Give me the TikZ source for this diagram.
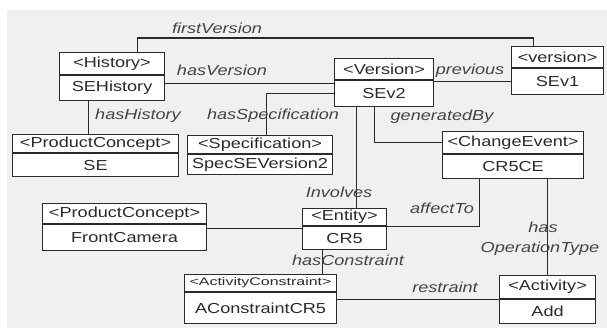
\documentclass[tikz,border=0pt]{standalone}
\usepackage{fontspec}
\setmainfont{Liberation Sans}[FakeStretch=1.25]
\newfontfamily\narrowhead{Liberation Sans}[FakeStretch=1.45]
\usepackage{tikz}
\usetikzlibrary{positioning}
\definecolor{bggray}{HTML}{F0F0F0}
\definecolor{inkgray}{HTML}{2A2A2A}
\definecolor{lblgray}{HTML}{444444}
\tikzstyle{head}=[draw=inkgray, fill=white, text=inkgray, anchor=north west,
    inner sep=0pt, line width=1.1pt]
\tikzstyle{body}=[draw=inkgray, fill=white, text=inkgray,
    inner sep=0pt, line width=1.1pt]
\tikzstyle{rel}=[font=\fontsize{14.5}{16}\selectfont\itshape, text=lblgray, inner sep=0pt]
\begin{document}
\begin{tikzpicture}[x=1pt, y=-1pt, font=\fontsize{14.5}{16}\selectfont]
  \useasboundingbox (0,0) rectangle (607,328);
  \fill[bggray] (7,10) rectangle (607,328);

  \coordinate (fvtop) at (0,38);

  % classes
  \node[head, minimum width=105, minimum height=22] at (59,52) (histh) {<History>};
  \node[body, minimum width=105, minimum height=25, below=0pt of histh] (hist) {SEHistory};

  \node[head, minimum width=99, minimum height=21] at (334,58) (v2h) {<Version>};
  \node[body, minimum width=99, minimum height=26, below=0pt of v2h] (v2) {SEv2};

  \node[head, minimum width=92, minimum height=21] at (511,46) (v1h) {<version>};
  \node[body, minimum width=92, minimum height=26, below=0pt of v1h] (v1) {SEv1};

  \node[head, minimum width=166, minimum height=18] at (12,134) (seh) {<ProductConcept>};
  \node[body, minimum width=166, minimum height=23, below=0pt of seh] (se) {SE};

  \node[head, minimum width=145, minimum height=18] at (187,135) (spech) {<Specification>};
  \node[body, minimum width=145, minimum height=20, below=0pt of spech] (spec) {SpecSEVersion2};

  \node[head, minimum width=141, minimum height=22] at (442,131) (ceh) {<ChangeEvent>};
  \node[body, minimum width=141, minimum height=24, below=0pt of ceh] (ce) {CR5CE};

  \node[head, minimum width=164, minimum height=20] at (42,203) (fch) {<ProductConcept>};
  \node[body, minimum width=164, minimum height=26, below=0pt of fch] (fc) {FrontCamera};

  \node[head, minimum width=84, minimum height=17] at (302,208) (cr5h) {<Entity>};
  \node[body, minimum width=84, minimum height=23, below=0pt of cr5h] (cr5) {CR5};

  \node[head, minimum width=152, minimum height=17, font=\narrowhead\fontsize{11}{12}\selectfont]
      at (184,274) (ach) {<ActivityConstraint>};
  \node[body, minimum width=152, minimum height=31, below=0pt of ach] (ac) {AConstraintCR5};

  \node[head, minimum width=96, minimum height=23] at (499,275) (addh) {<Activity>};
  \node[body, minimum width=96, minimum height=24, below=0pt of addh] (add) {Add};

  % connectors
  \begin{scope}[draw=inkgray, line width=1.1pt]
    \draw ([xshift=25]histh.north) |- ([xshift=-24]v1h.north |- fvtop) -- ([xshift=-24]v1h.north);
    \draw ([yshift=5]hist.east) -- ([yshift=5]hist.east -| v2.west);
    \draw (v1.west) -- (v1.west -| v2.east);
    \draw ([xshift=-23.5]hist.south) -- ([xshift=-23.5]hist.south |- seh.north);
    \draw ([xshift=6]spech.north) |- (v2.west);
    \draw ([xshift=-28]v2.south) -- ([xshift=-28]v2.south |- cr5h.north);
    \draw ([xshift=-10]v2.south) |- (ceh.west);
    \draw ([xshift=-34]ce.south) |- (cr5h.south east);
    \draw (addh.north) -- (addh.north |- ce.south);
    \draw ([yshift=-4]fch.south east) -- ([yshift=-4]fch.south east -| cr5.west);
    \draw ([xshift=-22]cr5.south) -- ([xshift=-22]cr5.south |- ach.north);
    \draw (addh.south west) -- (addh.south west -| ac.east);
  \end{scope}

  % relation names
  \node[rel] at (217,28) (lfirst) {firstVersion};
  \node[rel] at (222,70) (lhasv) {hasVersion};
  \node[rel] at (470,71) (lprev) {previous};
  \node[rel] at (138,116) (lhash) {hasHistory};
  \node[rel] at (273,116) (lhass) {hasSpecification};
  \node[rel] at (442,117) (lgen) {generatedBy};
  \node[rel] at (339,192) (linv) {Involves};
  \node[rel] at (442,208) (laff) {affectTo};
  \node[rel] at (543,227) (lhas) {has};
  \node[rel] at (540,249) (lopt) {OperationType};
  \node[rel] at (348,260) (lcon) {hasConstraint};
  \node[rel] at (445,287) (lres) {restraint};
\end{tikzpicture}
\end{document}
